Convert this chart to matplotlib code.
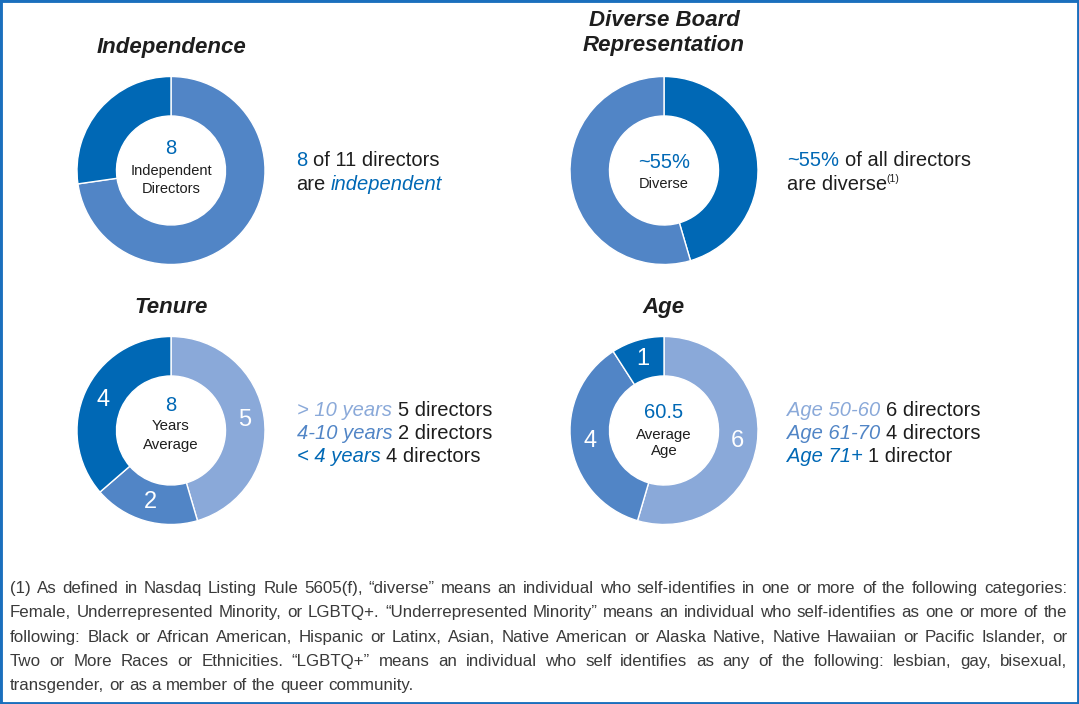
import matplotlib
matplotlib.use("Agg")
import matplotlib.pyplot as plt
from matplotlib.patches import Rectangle
from matplotlib import font_manager

W, H = 1079, 704
DARK = '#0068b5'
MID = '#5185c6'
LIGHT = '#8aa9d9'
INK = '#1e1e1e'
GREY = '#3a3a3a'

# data
indep_values = [8, 3]
diverse_values = [5, 6]
tenure_values = [5, 2, 4]
tenure_labels = ['> 10 years', '4-10 years', '< 4 years']
age_values = [6, 4, 1]
age_labels = ['Age 50-60', 'Age 61-70', 'Age 71+']

footnote_lines = [
    '(1) As defined in Nasdaq Listing Rule 5605(f), \u201cdiverse\u201d means an individual who self-identifies in one or more of the following categories:',
    'Female, Underrepresented Minority, or LGBTQ+. \u201cUnderrepresented Minority\u201d means an individual who self-identifies as one or more of the',
    'following: Black or African American, Hispanic or Latinx, Asian, Native American or Alaska Native, Native Hawaiian or Pacific Islander, or',
    'Two or More Races or Ethnicities. \u201cLGBTQ+\u201d means an individual who self identifies as any of the following: lesbian, gay, bisexual,',
    'transgender, or as a member of the queer community.',
]

names = {f.name for f in font_manager.fontManager.ttflist}
FONT = 'Liberation Sans' if 'Liberation Sans' in names else 'DejaVu Sans'
plt.rcParams['font.family'] = [FONT, 'DejaVu Sans']

fig = plt.figure(figsize=(W / 100, H / 100), dpi=100)
fig.patch.set_facecolor('white')
R = 94


def donut(cx, cy, values, colors, show_counts=False):
    a = fig.add_axes([(cx - R) / W, 1 - (cy + R) / H, 2 * R / W, 2 * R / H])
    total = sum(values)
    kw = {}
    if show_counts:
        kw = dict(autopct=lambda p: f'{p * total / 100:.0f}', pctdistance=0.79,
                  textprops=dict(color='white', fontsize=17))
    a.pie(values, colors=colors, startangle=90, counterclock=False, radius=1,
          wedgeprops=dict(width=0.42, edgecolor='white', linewidth=1.0), **kw)
    a.set_xlim(-1, 1)
    a.set_ylim(-1, 1)
    a.set_aspect('equal')
    a.axis('off')


donut(171, 170.5, indep_values, [MID, DARK])
donut(664, 170.5, diverse_values, [DARK, MID])
donut(171, 430.5, tenure_values, [LIGHT, MID, DARK], show_counts=True)
donut(664, 430.5, age_values, [LIGHT, MID, DARK], show_counts=True)

# pixel coordinate overlay for all text
bg = fig.add_axes([0, 0, 1, 1])
bg.set_xlim(0, W)
bg.set_ylim(H, 0)
bg.axis('off')
rend = fig.canvas.get_renderer()


def width(txt, **kw):
    t = bg.text(0, 0, txt, **kw)
    w = t.get_window_extent(rend).width
    t.remove()
    return w


def runs(x, y, parts, size=14.5):
    # parts: (text, color, style) drawn one after another on one baseline
    sp = width('x x', fontsize=size) - width('xx', fontsize=size)
    for i, (txt, color, style) in enumerate(parts):
        if i > 0:
            x += sp
        t = bg.text(x, y, txt, color=color, fontsize=size, style=style, va='baseline', ha='left')
        x += t.get_window_extent(rend).width


def centre(x, y, txt, size, color=INK, **kw):
    bg.text(x, y, txt, fontsize=size, color=color, ha='center', va='baseline', **kw)


# titles
title_kw = dict(fontweight='bold', style='italic')
centre(171, 53, 'Independence', 16, **title_kw)
centre(664, 25.5, 'Diverse Board', 16, **title_kw)
centre(664, 51.5, 'Representation', 16, **title_kw)
centre(171, 313, 'Tenure', 16, **title_kw)
centre(664, 313, 'Age', 16, **title_kw)

# centres of the donuts
centre(171, 154.5, '8', 14.5, DARK)
centre(171, 174.5, 'Independent', 10.5)
centre(171, 193, 'Directors', 10.5)

centre(664, 168, '~55%', 14.5, DARK)
centre(664, 188, 'Diverse', 10.5)

centre(171, 411, '8', 14.5, DARK)
centre(171, 430.5, 'Years', 10.8)
centre(171, 448.5, 'Average', 10.8)

centre(664, 418.5, '60.5', 14.5, DARK)
centre(664, 438.5, 'Average', 10.8)
centre(664, 455.5, 'Age', 10.8)

# side text
runs(296, 166, [('8', DARK, 'normal'), ('of 11 directors', INK, 'normal')])
runs(296, 190, [('are', INK, 'normal'), ('independent', DARK, 'italic')])

runs(787, 166, [('~55%', DARK, 'normal'), ('of all directors', INK, 'normal')])
runs(787, 190, [('are diverse', INK, 'normal')])
bg.text(787 + width('are diverse', fontsize=14.5) - 1, 182, '(1)', fontsize=7.5,
        color=INK, va='baseline', ha='left')

leg_colors = [LIGHT, MID, DARK]
leg_y = [415.5, 439, 462.5]
for lab, v, c, yy in zip(tenure_labels, tenure_values, leg_colors, leg_y):
    runs(297, yy, [(lab, c, 'italic'), (f'{v} directors', INK, 'normal')])
for lab, v, c, yy in zip(age_labels, age_values, leg_colors, leg_y):
    word = 'director' if v == 1 else 'directors'
    runs(787, yy, [(lab, c, 'italic'), (f'{v} {word}', INK, 'normal')])

# footnote, justified except for the last line
fn_size = 12.2
fn_left, fn_right = 10, 1067
fn_kw = dict(fontsize=fn_size, color=GREY)
fn_gap = width('x x', fontsize=fn_size) - width('xx', fontsize=fn_size)
for i, line in enumerate(footnote_lines):
    y = 593 + i * 24.3
    words = line.split(' ')
    ws = [width(w, **fn_kw) for w in words]
    if i < len(footnote_lines) - 1:
        gap = (fn_right - fn_left - sum(ws)) / (len(words) - 1)
    else:
        gap = fn_gap
    x = fn_left
    for w, wd in zip(words, ws):
        bg.text(x, y, w, va='baseline', ha='left', **fn_kw)
        x += wd + gap

# blue frame
fig.patches.append(Rectangle((0, 0), 1, 1, transform=fig.transFigure, fill=False,
                             edgecolor='#1a6fbd', linewidth=3.5))

fig.savefig('out.png', dpi=100, facecolor='white')
